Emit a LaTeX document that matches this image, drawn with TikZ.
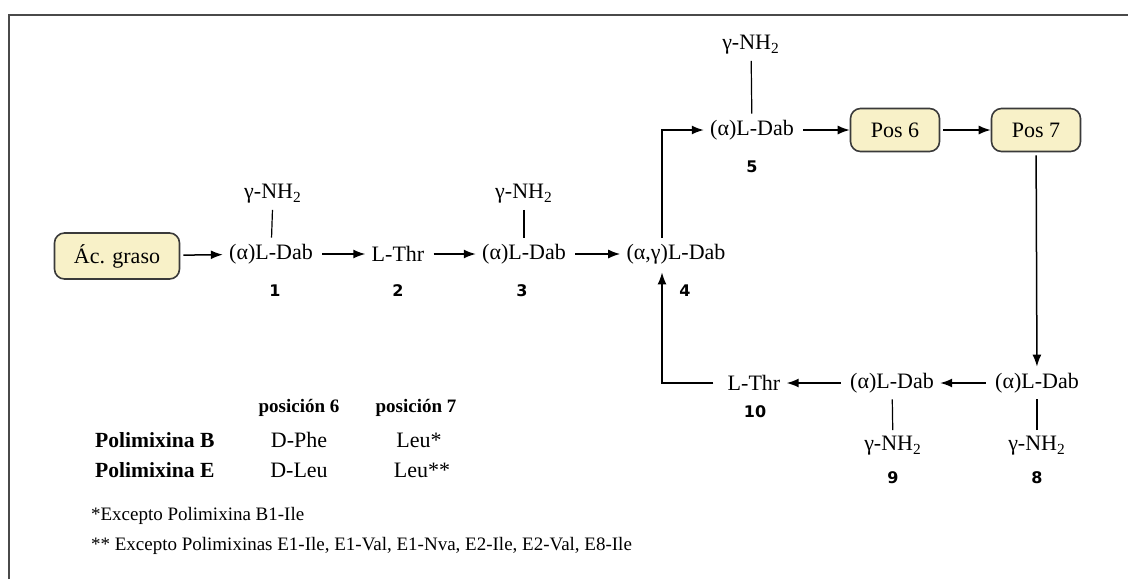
\documentclass[tikz,border=0pt]{standalone}
\usepackage{fontspec}
\setmainfont{Liberation Serif}
\newfontfamily\numfont{DejaVu Sans}
\usetikzlibrary{positioning,arrows.meta}
\definecolor{crema}{HTML}{F8F1C8}
\definecolor{borde}{HTML}{3A3A3A}
\definecolor{marco}{HTML}{4A4A4A}

\begin{document}
\begin{tikzpicture}[x=0.5pt, y=-0.5pt, font=\fontsize{11}{13}\selectfont,
    caja/.style={draw=borde, fill=crema, rounded corners=5pt, line width=0.8pt,
                 minimum width=44.5pt, minimum height=21.5pt, inner sep=0pt},
    res/.style={inner sep=3pt},
    num/.style={font=\numfont\bfseries\fontsize{8}{10}\selectfont},
    cab/.style={font=\bfseries\fontsize{9.5}{11}\selectfont},
    fila/.style={anchor=west, font=\bfseries\fontsize{10.8}{12}\selectfont},
    nota/.style={anchor=west, font=\fontsize{9.5}{11}\selectfont},
    flecha/.style={-{Latex[length=6pt,width=4.5pt]}, line width=0.75pt},
    enlace/.style={line width=0.6pt}]
    \useasboundingbox (0,0) rectangle (1128,579);
    \draw[marco, line width=1pt] (9,579) |- (1128,15);

    % cadena principal
    \node[caja, minimum width=62.5pt, minimum height=23pt] (acido) at (117,256) {Ác. graso};
    \node[res] (dab1) at (271,254) {(α)L-Dab};
    \node[res] (nh1) at (273,194) {γ-NH\textsubscript{2}};
    \node[num] (n1) at (275,291) {1};
    \node[res] (thr2) at (398,254) {L-Thr};
    \node[num] (n2) at (398,291) {2};
    \node[res] (dab3) at (524,254) {(α)L-Dab};
    \node[res] (nh3) at (524,194) {γ-NH\textsubscript{2}};
    \node[num] (n3) at (522,291) {3};
    \node[res] (dab4) at (676,254) {(α,γ)L-Dab};
    \node[num] (n4) at (685,291) {4};
    \node[res] (dab5) at (752,130) {(α)L-Dab};
    \node[res] (nh5) at (751,45) {γ-NH\textsubscript{2}};
    \node[num] (n5) at (752,167) {5};
    \node[caja] (pos6) at (895,130) {Pos 6};
    \node[caja] (pos7) at (1036,130) {Pos 7};
    \node[res] (dab8) at (1037,383) {(α)L-Dab};
    \node[res] (nh8) at (1037,446) {γ-NH\textsubscript{2}};
    \node[num] (n8) at (1037,478) {8};
    \node[res] (dab9) at (892,383) {(α)L-Dab};
    \node[res] (nh9) at (893,446) {γ-NH\textsubscript{2}};
    \node[num] (n9) at (893,478) {9};
    \node[res] (thr10) at (754,383) {L-Thr};
    \node[num] (n10) at (755,412) {10};

    \foreach \a/\b in {nh1/dab1, nh3/dab3, nh5/dab5, nh8/dab8, nh9/dab9}
      \draw[enlace] (\a) -- (\b);
    \foreach \a/\b in {acido/dab1, dab1/thr2, thr2/dab3, dab3/dab4, dab5/pos6,
                       pos6/pos7, pos7/dab8, dab8/dab9, dab9/thr10}
      \draw[flecha, shorten <=1.5pt] (\a) -- (\b);
    \draw[flecha] ([xshift=-7pt]dab4.north) |- (dab5.west);
    \draw[flecha, shorten <=4pt] (thr10.west) -| ([xshift=-7pt, yshift=-1pt]dab4.south);

    % tabla de posiciones 6 y 7
    \node[cab] (h6) at (299,408) {posición 6};
    \node[cab] (h7) at (416,408) {posición 7};
    \node[fila] (polb) at (88,440) {Polimixina B};
    \node[fila] (pole) at (88,470) {Polimixina E};
    \node (b6) at (299,440) {D-Phe};
    \node (b7) at (419,440) {Leu*};
    \node (e6) at (299,470) {D-Leu};
    \node (e7) at (422,470) {Leu**};
    \node[nota] (nota1) at (84,516) {*Excepto Polimixina B1-Ile};
    \node[nota] (nota2) at (84,546) {** Excepto Polimixinas E1-Ile, E1-Val, E1-Nva, E2-Ile, E2-Val, E8-Ile};
\end{tikzpicture}
\end{document}
